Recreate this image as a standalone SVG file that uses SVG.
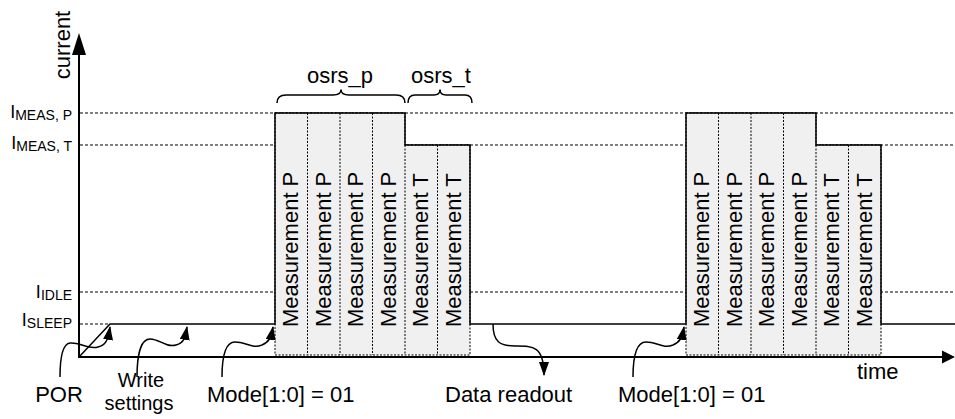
<svg xmlns="http://www.w3.org/2000/svg" width="955" height="419" viewBox="0 0 955 419">
<defs>
<style>
text{font-family:"Liberation Sans",Arial,sans-serif;fill:#000}
.lbl{font-size:22px}
.lvl{font-size:18px}
.sub{font-size:14px}
.ref{stroke:#000;stroke-width:1.2;stroke-dasharray:3 2;fill:none}
.box{fill:#f0f0f0;stroke:#000;stroke-width:1;stroke-dasharray:2 1.5}
.sep{stroke:#000;stroke-width:1;stroke-dasharray:2 1.5;fill:none}
.sig{stroke:#000;stroke-width:1.5;fill:none}
.axis{stroke:#000;stroke-width:2;fill:none}
.brace{stroke:#000;stroke-width:1.5;fill:none}
.conn{stroke:#000;stroke-width:1.5;fill:none;marker-end:url(#ah)}
</style>
<marker id="ah" markerUnits="userSpaceOnUse" markerWidth="14" markerHeight="10" viewBox="0 0 14 10" refX="13" refY="5" orient="auto">
<path d="M0,0 L14,5 L0,10 z" fill="#000"/>
</marker>
</defs>
<rect width="955" height="419" fill="#fff"/>

<g id="reference-lines">
<line class="ref" x1="80" y1="113" x2="955" y2="113"/>
<line class="ref" x1="80" y1="145" x2="955" y2="145"/>
<line class="ref" x1="80" y1="292" x2="955" y2="292"/>
<line class="ref" x1="80" y1="324" x2="110" y2="324"/>
</g>

<g id="burst-1">
<polygon class="box" points="275,113 405,113 405,145 470,145 470,355 275,355"/>
<line class="sep" x1="307.5" y1="113" x2="307.5" y2="355"/>
<line class="sep" x1="340" y1="113" x2="340" y2="355"/>
<line class="sep" x1="372.5" y1="113" x2="372.5" y2="355"/>
<line class="sep" x1="405" y1="145" x2="405" y2="355"/>
<line class="sep" x1="437.5" y1="145" x2="437.5" y2="355"/>
<text class="lbl" transform="translate(298,327) rotate(-90)">Measurement P</text>
<text class="lbl" transform="translate(330.5,327) rotate(-90)">Measurement P</text>
<text class="lbl" transform="translate(363,327) rotate(-90)">Measurement P</text>
<text class="lbl" transform="translate(395.5,327) rotate(-90)">Measurement P</text>
<text class="lbl" transform="translate(428,327) rotate(-90)">Measurement T</text>
<text class="lbl" transform="translate(460.5,327) rotate(-90)">Measurement T</text>
</g>

<g id="burst-2">
<polygon class="box" points="686,113 816,113 816,145 881,145 881,355 686,355"/>
<line class="sep" x1="718.5" y1="113" x2="718.5" y2="355"/>
<line class="sep" x1="751" y1="113" x2="751" y2="355"/>
<line class="sep" x1="783.5" y1="113" x2="783.5" y2="355"/>
<line class="sep" x1="816" y1="145" x2="816" y2="355"/>
<line class="sep" x1="848.5" y1="145" x2="848.5" y2="355"/>
<text class="lbl" transform="translate(709,327) rotate(-90)">Measurement P</text>
<text class="lbl" transform="translate(741.5,327) rotate(-90)">Measurement P</text>
<text class="lbl" transform="translate(774,327) rotate(-90)">Measurement P</text>
<text class="lbl" transform="translate(806.5,327) rotate(-90)">Measurement P</text>
<text class="lbl" transform="translate(839,327) rotate(-90)">Measurement T</text>
<text class="lbl" transform="translate(871.5,327) rotate(-90)">Measurement T</text>
</g>

<g id="signal">
<path class="sig" d="M79,357 L110,324 L275,324 L275,113 L405,113 L405,145 L470,145 L470,324 L686,324 L686,113 L816,113 L816,145 L881,145 L881,324 L955,324"/>
</g>

<g id="axes">
<line class="axis" x1="79" y1="358" x2="79" y2="50"/>
<polygon points="79,33 72,55 86,55" fill="#000"/>
<line class="axis" x1="78" y1="357" x2="944" y2="357"/>
<polygon points="955,357 942,350.5 942,363.5" fill="#000"/>
<text class="lbl" text-anchor="middle" transform="translate(70,45) rotate(-90)">current</text>
<text class="lbl" x="857" y="379">time</text>
</g>

<g id="level-labels">
<text class="lvl" x="72" y="118" text-anchor="end">I<tspan class="sub" dy="2">MEAS, P</tspan></text>
<text class="lvl" x="72" y="148.5" text-anchor="end">I<tspan class="sub" dy="2">MEAS, T</tspan></text>
<text class="lvl" x="72" y="297.5" text-anchor="end">I<tspan class="sub" dy="2">IDLE</tspan></text>
<text class="lvl" x="72" y="326" text-anchor="end">I<tspan class="sub" dy="2">SLEEP</tspan></text>
</g>

<g id="braces">
<path class="brace" d="M277,103 Q277,95 286,95 L333,95 Q341,95 341,89.5 Q341,95 349,95 L396,95 Q405,95 405,103"/>
<path class="brace" d="M408,103 Q408,95 415,95 L434,95 Q440,95 440,89.5 Q440,95 446,95 L465,95 Q472,95 472,103"/>
<text class="lbl" x="340" y="83" text-anchor="middle">osrs_p</text>
<text class="lbl" x="441" y="83" text-anchor="middle">osrs_t</text>
</g>

<g id="connectors">
<path class="conn" d="M60,377 C60,358 62,344 70,343 C80,342 88,350 98,347 C106,345 108,340 110,327"/>
<path class="conn" d="M137,377 C137,358 140,339 150,339 C160,339 166,348 176,345 C184,343 185,338 187,327"/>
<path class="conn" d="M222,377 C222,358 225,342 235,342 C246,342 252,349 262,345 C269,342 271,338 273,327"/>
<path class="conn" d="M493,324 C493,342 500,346 515,346 C532,346 544,345 544,375"/>
<path class="conn" d="M633,377 C633,358 636,342 646,342 C657,342 663,349 673,345 C680,342 682,338 684,327"/>
</g>

<g id="event-labels">
<text class="lbl" x="59" y="402" text-anchor="middle">POR</text>
<text class="lbl" x="141" y="387" text-anchor="middle" style="font-size:20px">Write</text>
<text class="lbl" x="139" y="410" text-anchor="middle" style="font-size:20px">settings</text>
<text class="lbl" x="207" y="402">Mode[1:0] = 01</text>
<text class="lbl" x="445" y="402">Data readout</text>
<text class="lbl" x="618" y="402">Mode[1:0] = 01</text>
</g>
</svg>
